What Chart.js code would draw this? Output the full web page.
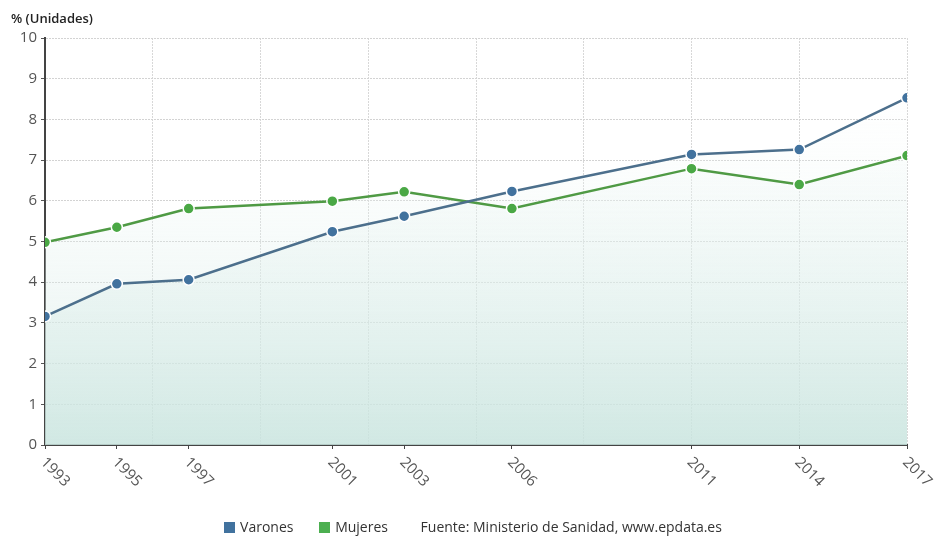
<!DOCTYPE html>
<html>
<head>
<meta charset="utf-8">
<script src="https://cdn.jsdelivr.net/npm/chart.js@4.4.0/dist/chart.umd.min.js"></script>
<style>
  html, body { margin: 0; padding: 0; background: #fff; }
  #wrap { position: relative; width: 938px; height: 541px; font-family: "Open Sans", sans-serif; }
  #legend { position: absolute; left: 0; top: 517px; width: 938px; text-align: center; font-size: 14px; color: #333; padding-left: 8px; box-sizing: border-box; }
  #legend span { display: inline-block; margin: 0 11px; }
  #legend i { display: inline-block; width: 11px; height: 11px; margin-right: 5px; vertical-align: -1px; }
</style>
</head>
<body>
<div id="wrap">
  <canvas id="chart" width="938" height="541"></canvas>
  <div id="legend">
    <span><i style="background:#41729e"></i>Varones</span>
    <span><i style="background:#4caf50"></i>Mujeres</span>
    <span style="margin-left:18px">Fuente: Ministerio de Sanidad, www.epdata.es</span>
  </div>
</div>
<script>
var years = [1993, 1995, 1997, 2001, 2003, 2006, 2011, 2014, 2017];
var varones = [3.16, 3.96, 4.06, 5.24, 5.62, 6.23, 7.14, 7.26, 8.53];
var mujeres = [4.98, 5.35, 5.81, 5.99, 6.22, 5.81, 6.79, 6.40, 7.11];
var yTicks = [0, 1, 2, 3, 4, 5, 6, 7, 8, 9, 10];

function points(values) {
  return years.map(function (y, i) { return { x: y, y: values[i] }; });
}

function areaFill(context) {
  var chart = context.chart;
  var area = chart.chartArea;
  if (!area) return 'rgba(0,0,0,0)';
  var g = chart.ctx.createLinearGradient(0, area.bottom, 0, area.top);
  g.addColorStop(0, 'rgba(200,228,222,0.6)');
  g.addColorStop(1, 'rgba(255,255,255,0)');
  return g;
}

// rotated year labels + axis title
var extras = {
  id: 'extras',
  afterDraw: function (chart) {
    var ctx = chart.ctx;
    var xs = chart.scales.x;
    ctx.save();
    ctx.fillStyle = '#555';
    ctx.font = '15px "Open Sans"';
    ctx.textAlign = 'left';
    ctx.textBaseline = 'middle';
    years.forEach(function (y) {
      var px = xs.getPixelForValue(y);
      ctx.save();
      ctx.translate(px - 2, xs.top + 15);
      ctx.rotate(Math.PI / 4);
      ctx.fillText(String(y), 0, 0);
      ctx.restore();
    });
    ctx.fillStyle = '#222';
    ctx.font = '600 13px "Open Sans"';
    ctx.textBaseline = 'alphabetic';
    ctx.fillText('% (Unidades)', 11, 23);
    ctx.restore();
  }
};

new Chart(document.getElementById('chart'), {
  type: 'line',
  data: {
    datasets: [
      {
        label: 'Varones',
        data: points(varones),
        borderColor: '#4c6f8c',
        backgroundColor: areaFill,
        pointBackgroundColor: '#41729e',
        pointBorderColor: '#fff',
        pointBorderWidth: 1.5,
        pointRadius: 5.5,
        borderWidth: 2.5,
        fill: 'origin',
        tension: 0
      },
      {
        label: 'Mujeres',
        data: points(mujeres),
        borderColor: '#4f9a44',
        backgroundColor: areaFill,
        pointBackgroundColor: '#4aa845',
        pointBorderColor: '#fff',
        pointBorderWidth: 1.5,
        pointRadius: 5.5,
        borderWidth: 2.5,
        fill: 'origin',
        tension: 0
      }
    ]
  },
  options: {
    responsive: false,
    animation: false,
    layout: { padding: { left: 0, top: 38, right: 31, bottom: 96 } },
    plugins: {
      legend: { display: false },
      tooltip: { enabled: false },
      filler: { drawTime: 'beforeDatasetsDraw' }
    },
    scales: {
      x: {
        type: 'linear',
        min: years[0],
        max: years[years.length - 1],
        ticks: { display: false, stepSize: 1, autoSkip: false },
        afterFit: function (scale) { scale.height = 0; },
        border: { color: '#444', width: 2, dash: [2, 1] },
        grid: {
          tickLength: 4,
          borderDash: [2, 2],
          tickBorderDash: [],
          color: function (c) {
            var v = c.tick && c.tick.value;
            return (v - years[0]) % 3 === 0 && v !== years[0] ? '#d8d8d8' : 'rgba(0,0,0,0)';
          },
          tickColor: function (c) {
            var v = c.tick && c.tick.value;
            return years.indexOf(v) >= 0 ? '#444' : 'rgba(0,0,0,0)';
          }
        }
      },
      y: {
        min: 0,
        max: 10,
        afterBuildTicks: function (scale) {
          scale.ticks = yTicks.map(function (v) { return { value: v }; });
        },
        afterFit: function (scale) { scale.width = 45; },
        ticks: { color: '#555', font: { family: 'Open Sans', size: 15 }, padding: 4 },
        border: { color: '#444', width: 2, dash: [2, 1] },
        grid: {
          color: '#d3d3d3',
          borderDash: [2, 2],
          tickLength: 4,
          tickColor: '#555',
          tickBorderDash: []
        }
      }
    }
  },
  plugins: [extras]
});
</script>
</body>
</html>
